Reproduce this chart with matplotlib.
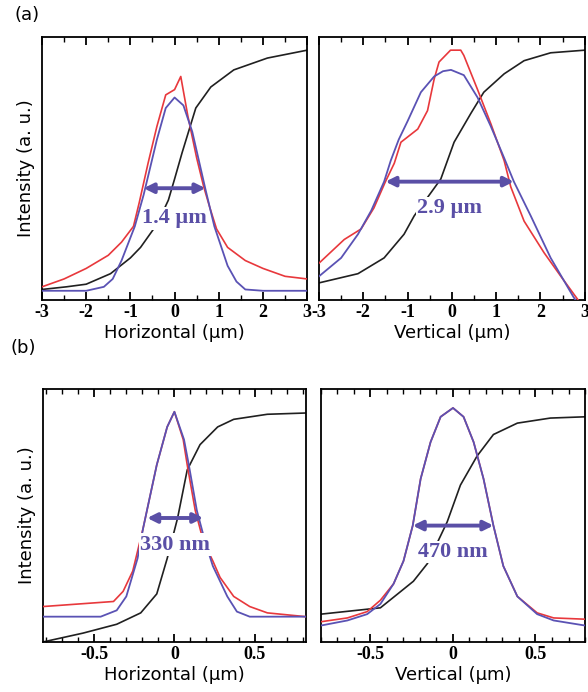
import numpy as np
import matplotlib.pyplot as plt

plt.rcParams['axes.unicode_minus'] = False

# ---- data (intensity normalised 0..1 to the axes box) ----
# (a) horizontal
ah_red_x = [-3, -2.5, -2, -1.5, -1.2, -0.93, -0.8, -0.6, -0.4, -0.2, 0.0, 0.14, 0.3, 0.5, 0.66, 0.8, 0.95, 1.2, 1.6, 2.0, 2.5, 3.0]
ah_red_y = [0.05, 0.08, 0.12, 0.17, 0.22, 0.28, 0.37, 0.52, 0.66, 0.78, 0.80, 0.85, 0.70, 0.54, 0.43, 0.35, 0.27, 0.20, 0.15, 0.12, 0.09, 0.08]
ah_blue_x = [-3, -2, -1.6, -1.4, -1.2, -0.9, -0.7, -0.4, -0.2, 0.0, 0.2, 0.4, 0.7, 0.9, 1.2, 1.4, 1.6, 2.0, 3.0]
ah_blue_y = [0.035, 0.035, 0.05, 0.08, 0.15, 0.28, 0.40, 0.61, 0.73, 0.77, 0.74, 0.64, 0.42, 0.28, 0.13, 0.07, 0.04, 0.035, 0.035]
ah_blk_x = [-3, -2.45, -2, -1.45, -1.0, -0.77, -0.39, -0.14, 0.0, 0.17, 0.48, 0.82, 1.34, 2.1, 3.0]
ah_blk_y = [0.04, 0.05, 0.06, 0.10, 0.16, 0.20, 0.29, 0.38, 0.46, 0.56, 0.73, 0.81, 0.875, 0.92, 0.95]

# (a) vertical
av_red_x = [-3.0, -2.43, -2.05, -1.76, -1.5, -1.3, -1.15, -0.77, -0.55, -0.4, -0.29, -0.03, 0.2, 0.27, 0.58, 0.88, 1.18, 1.33, 1.63, 2.08, 2.46, 2.85, 3.0]
av_red_y = [0.14, 0.23, 0.27, 0.35, 0.45, 0.52, 0.60, 0.65, 0.72, 0.84, 0.905, 0.95, 0.95, 0.93, 0.80, 0.67, 0.53, 0.43, 0.30, 0.18, 0.09, 0.0, -0.04]
av_blue_x = [-3.0, -2.5, -2.12, -1.82, -1.53, -1.38, -1.2, -1.0, -0.7, -0.4, -0.2, -0.02, 0.27, 0.58, 0.88, 1.18, 1.4, 1.78, 2.23, 2.75, 3.0]
av_blue_y = [0.09, 0.16, 0.25, 0.34, 0.45, 0.53, 0.61, 0.68, 0.79, 0.85, 0.87, 0.875, 0.855, 0.77, 0.66, 0.54, 0.45, 0.32, 0.16, 0.01, -0.05]
av_blk_x = [-3.0, -2.12, -1.53, -1.08, -0.85, -0.25, 0.05, 0.43, 0.72, 1.18, 1.63, 2.23, 3.0]
av_blk_y = [0.065, 0.10, 0.16, 0.25, 0.32, 0.46, 0.60, 0.71, 0.79, 0.86, 0.91, 0.94, 0.95]

# (b) horizontal
bh_red_x = [-0.82, -0.38, -0.32, -0.26, -0.195, -0.11, -0.045, 0.0, 0.055, 0.08, 0.13, 0.18, 0.24, 0.285, 0.37, 0.47, 0.58, 0.82]
bh_red_y = [0.14, 0.16, 0.20, 0.28, 0.45, 0.70, 0.85, 0.91, 0.80, 0.70, 0.52, 0.40, 0.32, 0.255, 0.18, 0.14, 0.115, 0.10]
bh_blue_x = [-0.82, -0.46, -0.36, -0.30, -0.23, -0.195, -0.11, -0.045, 0.0, 0.06, 0.09, 0.14, 0.19, 0.24, 0.33, 0.39, 0.47, 0.82]
bh_blue_y = [0.10, 0.10, 0.125, 0.18, 0.33, 0.45, 0.70, 0.85, 0.91, 0.80, 0.70, 0.52, 0.40, 0.30, 0.18, 0.12, 0.10, 0.10]
bh_blk_x = [-0.82, -0.57, -0.36, -0.21, -0.11, -0.045, 0.02, 0.08, 0.16, 0.27, 0.37, 0.58, 0.82]
bh_blk_y = [0.0, 0.035, 0.07, 0.115, 0.19, 0.33, 0.49, 0.68, 0.78, 0.85, 0.88, 0.90, 0.905]

# (b) vertical
bv_red_x = [-0.8, -0.64, -0.52, -0.44, -0.36, -0.30, -0.244, -0.196, -0.136, -0.075, 0.0, 0.064, 0.125, 0.185, 0.245, 0.305, 0.39, 0.51, 0.61, 0.8]
bv_red_y = [0.08, 0.095, 0.12, 0.165, 0.23, 0.32, 0.46, 0.645, 0.79, 0.89, 0.925, 0.89, 0.79, 0.645, 0.46, 0.30, 0.18, 0.115, 0.095, 0.09]
bv_blue_x = [-0.8, -0.64, -0.52, -0.44, -0.36, -0.30, -0.244, -0.196, -0.136, -0.075, 0.0, 0.064, 0.125, 0.185, 0.245, 0.305, 0.39, 0.51, 0.61, 0.8]
bv_blue_y = [0.065, 0.085, 0.11, 0.15, 0.23, 0.32, 0.46, 0.645, 0.79, 0.89, 0.925, 0.89, 0.79, 0.645, 0.46, 0.30, 0.18, 0.11, 0.085, 0.065]
bv_blk_x = [-0.8, -0.44, -0.335, -0.24, -0.155, -0.035, 0.045, 0.146, 0.245, 0.39, 0.59, 0.8]
bv_blk_y = [0.11, 0.135, 0.19, 0.24, 0.31, 0.475, 0.62, 0.735, 0.82, 0.865, 0.885, 0.89]

# FWHM markers: (x0, x1, y, label, label_y)
fwhm_ah = (-0.7, 0.7, 0.425, '1.4 µm', 0.31)
fwhm_av = (-1.5, 1.4, 0.45, '2.9 µm', 0.35)
fwhm_bh = (-0.17, 0.18, 0.49, '330 nm', 0.385)
fwhm_bv = (-0.244, 0.245, 0.46, '470 nm', 0.355)

RED = '#e8383c'
BLUE = '#5a52b4'
ARROW = '#5a4fa6'

fig = plt.figure(figsize=(5.88, 6.92), dpi=100)
ax1 = fig.add_axes([0.0714, 0.5665, 0.451, 0.380])
ax2 = fig.add_axes([0.5425, 0.5665, 0.452, 0.380])
ax3 = fig.add_axes([0.0731, 0.0723, 0.447, 0.3656])
ax4 = fig.add_axes([0.5459, 0.0723, 0.449, 0.3656])

panels = [
    (ax1, ah_red_x, ah_red_y, ah_blue_x, ah_blue_y, ah_blk_x, ah_blk_y, fwhm_ah, 'Horizontal (µm)'),
    (ax2, av_red_x, av_red_y, av_blue_x, av_blue_y, av_blk_x, av_blk_y, fwhm_av, 'Vertical (µm)'),
    (ax3, bh_red_x, bh_red_y, bh_blue_x, bh_blue_y, bh_blk_x, bh_blk_y, fwhm_bh, 'Horizontal (µm)'),
    (ax4, bv_red_x, bv_red_y, bv_blue_x, bv_blue_y, bv_blk_x, bv_blk_y, fwhm_bv, 'Vertical (µm)'),
]

for ax, rx, ry, bx, by, kx, ky, fw, xl in panels:
    ax.plot(kx, ky, color='#202020', lw=1.2, zorder=2)
    ax.plot(rx, ry, color=RED, lw=1.2, zorder=3)
    ax.plot(bx, by, color=BLUE, lw=1.3, zorder=4)
    x0, x1, yy, lab, ly = fw
    ax.annotate('', xy=(x1, yy), xytext=(x0, yy),
                arrowprops=dict(arrowstyle='<|-|>', color=ARROW, lw=2.8,
                                mutation_scale=14, shrinkA=0, shrinkB=0),
                zorder=6)
    ax.text((x0 + x1) / 2, ly, lab, ha='center', va='center', color=ARROW,
            fontsize=16, fontweight='bold', family='Liberation Serif', zorder=5,
            bbox=dict(facecolor='white', edgecolor='none', pad=1.0))
    ax.set_ylim(0, 1)
    ax.set_yticks([])
    ax.set_xlabel(xl, fontsize=13, family='DejaVu Sans', labelpad=2)
    for s in ax.spines.values():
        s.set_linewidth(1.3)

for ax in (ax1, ax2):
    ax.set_xlim(-3, 3)
    ax.set_xticks([-3, -2, -1, 0, 1, 2, 3])
    ax.set_xticks(np.arange(-3, 3.01, 0.5), minor=True)
ax3.set_xlim(-0.82, 0.82)
ax4.set_xlim(-0.8, 0.8)
for ax in (ax3, ax4):
    ax.set_xticks([-0.5, 0, 0.5])
    ax.set_xticklabels(['-0.5', '0', '0.5'])
    ax.set_xticks(np.arange(-0.8, 0.81, 0.1), minor=True)

for ax in (ax1, ax2, ax3, ax4):
    ax.tick_params(axis='x', which='both', direction='in', top=True, bottom=True, pad=3)
    ax.tick_params(axis='x', which='major', length=6, width=1.3)
    ax.tick_params(axis='x', which='minor', length=3.5, width=1.0)
    for t in ax.get_xticklabels():
        t.set_family('Liberation Serif')
        t.set_fontweight('bold')
        t.set_fontsize(13)

ax1.set_ylabel('Intensity (a. u.)', fontsize=13, family='DejaVu Sans', labelpad=5)
ax3.set_ylabel('Intensity (a. u.)', fontsize=13, family='DejaVu Sans', labelpad=5)

fig.text(0.025, 0.978, '(a)', fontsize=13, family='DejaVu Sans', va='center')
fig.text(0.018, 0.497, '(b)', fontsize=13, family='DejaVu Sans', va='center')

fig.savefig('out.png', dpi=100)
